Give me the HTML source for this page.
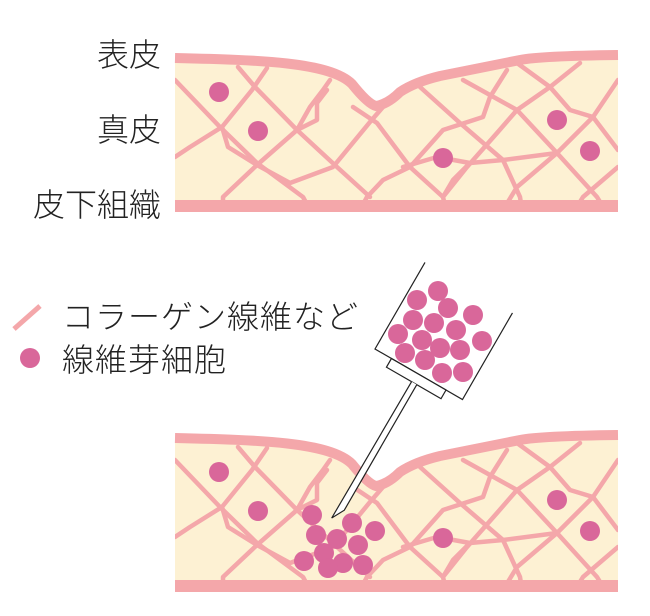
<!DOCTYPE html>
<html><head><meta charset="utf-8"><style>
html,body{margin:0;padding:0;background:#fff;}
svg{display:block;}
text{font-family:"Liberation Sans","Noto Sans CJK JP",sans-serif;fill:#222;font-weight:300;}
</style></head><body>
<svg width="650" height="616" viewBox="0 0 650 616" xmlns="http://www.w3.org/2000/svg">
<defs>
  <clipPath id="cp">
    <path d="M175,58 C260,60 330,62 352,84 Q368,104 376,106 Q388,104 400,92 Q415,82 440,76 L520,60 Q540,56 618,55 L618,206 L175,206 Z"/>
  </clipPath>
  <g id="skin">
    <path d="M175,58 C260,60 330,62 352,84 Q368,104 376,106 Q388,104 400,92 Q415,82 440,76 L520,60 Q540,56 618,55 L618,206 L175,206 Z" fill="#fdf1d3"/>
    <g clip-path="url(#cp)" fill="none" stroke="#f4a7aa" stroke-width="4.5" stroke-linejoin="round" stroke-linecap="round">
      <polyline points="175,80 220,127 257,163 303,197 310,210"/>
      <polyline points="238,67 255,87 297,130 337,167 370,197"/>
      <polyline points="267,68 252,90 222,127 190,147 175,157"/>
      <polyline points="223,210 223,197 257,165 297,130 310,107 323,90 330,80"/>
      <polyline points="222,127 228,147 257,165 290,183 333,167 370,122 383,107"/>
      <polyline points="327,90 317,103 317,120 297,130"/>
      <polyline points="353,107 377,123 410,167 443,197 446,210"/>
      <polyline points="360,210 367,197 383,180 410,167 443,130 483,117 490,97 507,70"/>
      <polyline points="420,87 460,123 503,160 520,197 522,210"/>
      <polyline points="463,80 517,110 557,153 597,197 605,210"/>
      <polyline points="517,63 550,87 570,110 593,117 618,150"/>
      <polyline points="580,63 550,87 517,110 497,133 467,167 443,197"/>
      <polyline points="618,80 593,117 557,153 517,187 503,210"/>
      <polyline points="403,167 437,157 470,163 503,160 557,153"/>
      <polyline points="618,167 583,197 575,210"/>
      <polyline points="443,197 453,180 470,163"/>
    </g>
    <path d="M175,58 C260,60 330,62 352,84 Q368,104 376,106 Q388,104 400,92 Q415,82 440,76 L520,60 Q540,56 618,55" fill="none" stroke="#f4a7aa" stroke-width="10"/>
    <rect x="175" y="200" width="443" height="12" fill="#f4a7aa"/>
    <g fill="#d9679a">
      <circle cx="219" cy="92" r="10"/><circle cx="258" cy="131" r="10"/>
      <circle cx="443" cy="158" r="10"/><circle cx="557" cy="120" r="10"/>
      <circle cx="590" cy="151" r="10"/>
    </g>
  </g>
</defs>
<use href="#skin"/>
<use href="#skin" transform="translate(0,380)"/>

<text x="161" y="66" font-size="32" text-anchor="end">表皮</text>
<text x="161" y="141" font-size="32" text-anchor="end">真皮</text>
<text x="161" y="216" font-size="32" text-anchor="end">皮下組織</text>

<line x1="14" y1="329" x2="40" y2="306" stroke="#f4a7aa" stroke-width="5"/>
<text x="62" y="328" font-size="32" letter-spacing="1">コラーゲン線維など</text>
<circle cx="30" cy="358" r="10" fill="#d9679a"/>
<text x="62" y="371" font-size="32" letter-spacing="1">線維芽細胞</text>

<g fill="#d9679a">
  <circle cx="438" cy="291" r="10"/><circle cx="417" cy="300" r="10"/><circle cx="448" cy="308" r="10"/>
  <circle cx="473" cy="315" r="10"/><circle cx="413" cy="320" r="10"/><circle cx="434" cy="323" r="10"/>
  <circle cx="456" cy="330" r="10"/><circle cx="398" cy="334" r="10"/><circle cx="422" cy="340" r="10"/>
  <circle cx="440" cy="348" r="10"/><circle cx="460" cy="350" r="10"/><circle cx="482" cy="341" r="10"/>
  <circle cx="405" cy="353" r="10"/><circle cx="425" cy="360" r="10"/><circle cx="442" cy="373" r="10"/>
  <circle cx="463" cy="372" r="10"/>
</g>
<g transform="translate(375,349) rotate(30)" fill="none" stroke="#222" stroke-width="1.2">
  <path d="M0,-100 L0,0 L101,0 L101,-100"/>
  <rect x="19" y="0" width="63" height="10" fill="#fff"/>
  <path d="M48,10 L47,168 L54,155 L54,10" fill="#fff"/>
</g>
<g fill="#d9679a">
  <circle cx="312" cy="515" r="10"/><circle cx="316" cy="535" r="10"/><circle cx="352" cy="523" r="10"/>
  <circle cx="375" cy="531" r="10"/><circle cx="337" cy="539" r="10"/><circle cx="358" cy="545" r="10"/>
  <circle cx="324" cy="553" r="10"/><circle cx="304" cy="561" r="10"/><circle cx="343" cy="563" r="10"/>
  <circle cx="363" cy="565" r="10"/><circle cx="328" cy="568" r="10"/>
</g>
</svg>
</body></html>
